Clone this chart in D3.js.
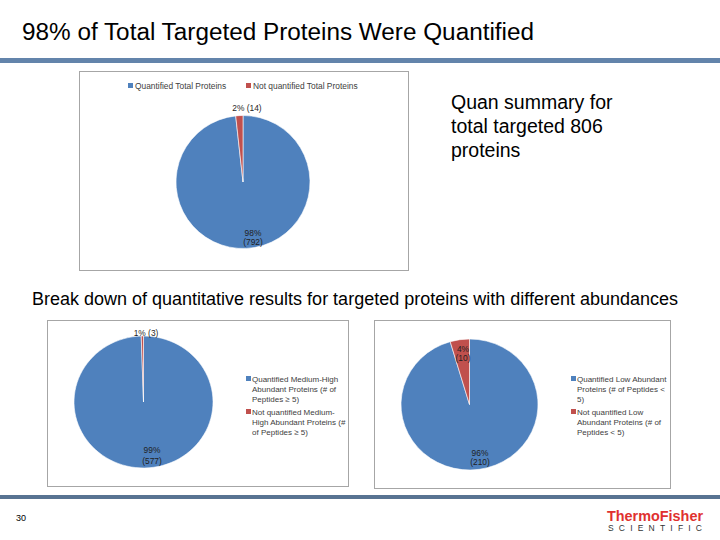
<!DOCTYPE html>
<html><head><meta charset="utf-8">
<script src="https://cdn.jsdelivr.net/npm/d3@7/dist/d3.min.js"></script>
<style>body{margin:0;background:#fff}svg{display:block}text{font-family:"Liberation Sans",Arial,sans-serif}</style>
</head><body>
<svg id="c" width="720" height="540"></svg>
<script>
const categories1 = ["Quantified Total Proteins", "Not quantified Total  Proteins"];
const values1 = [792, 14];
const pct1 = ["98%", "2%"];
const categories2 = ["Quantified Medium-High Abundant Proteins (# of Peptides \u2265 5)", "Not quantified Medium-High Abundant Proteins (# of Peptides \u2265 5)"];
const legendLines2 = [["Quantified Medium-High", "Abundant Proteins (# of", "Peptides \u2265 5)"], ["Not quantified Medium-", "High Abundant Proteins (#", "of Peptides \u2265 5)"]];
const values2 = [577, 3];
const pct2 = ["99%", "1%"];
const categories3 = ["Quantified Low Abundant Proteins (# of Peptides < 5)", "Not quantified Low Abundant Proteins (# of Peptides < 5)"];
const legendLines3 = [["Quantified Low Abundant", "Proteins (# of Peptides <", "5)"], ["Not quantified Low", "Abundant Proteins (# of", "Peptides < 5)"]];
const values3 = [210, 10];
const pct3 = ["96%", "4%"];
const colors = ["#4f81bd", "#c0504d"];

const svg = d3.select("#c");
// Title
svg.append("text").attr("x", 22).attr("y", 40).attr("font-size", 23.5).attr("fill", "#000")
  .attr("textLength", 512).attr("lengthAdjust", "spacingAndGlyphs")
  .text("98% of Total Targeted Proteins Were Quantified");
svg.append("rect").attr("x", 0).attr("y", 58).attr("width", 720).attr("height", 5).attr("fill", "#6384ab");
// bottom bar
svg.append("rect").attr("x", 0).attr("y", 495).attr("width", 720).attr("height", 4).attr("fill", "#587392");

// subtitle
const sub = ["Quan summary for", "total targeted 806", "proteins"];
svg.append("g").selectAll("text").data(sub).join("text")
  .attr("x", 451).attr("y", (d, i) => 109 + i * 24).attr("font-size", 19.5).text(d => d);
svg.append("text").attr("x", 32).attr("y", 305).attr("font-size", 17.5)
  .attr("textLength", 646).attr("lengthAdjust", "spacingAndGlyphs")
  .text("Break down of quantitative results for targeted proteins with different abundances");

// chart boxes
function box(x, y, w, h) {
  svg.append("rect").attr("x", x + 0.5).attr("y", y + 0.5).attr("width", w).attr("height", h)
    .attr("fill", "#fff").attr("stroke", "#a6a6a6").attr("stroke-width", 1);
}
box(79, 71, 329, 199);
box(47, 320, 301, 166);
box(374, 320, 296, 168);

const pieGen = d3.pie().sort(null).startAngle(0).endAngle(2 * Math.PI);

function drawPie(cx, cy, rx, ry, values) {
  const arcs = pieGen(values);
  const arc = d3.arc().innerRadius(0).outerRadius(rx);
  const g = svg.append("g").attr("transform", `translate(${cx},${cy}) scale(1,${ry / rx})`);
  g.selectAll("path").data(arcs).join("path")
    .attr("d", arc).attr("fill", (d, i) => colors[i])
    .attr("stroke", "#fff").attr("stroke-width", 0.6);
}
function labels(items) {
  svg.append("g").selectAll("text").data(items).join("text")
    .attr("x", d => d.x).attr("y", d => d.y).attr("text-anchor", "middle")
    .attr("font-size", 8.4).attr("fill", "#1f1f1f").text(d => d.t);
}

// Chart 1
drawPie(243, 182, 67, 66.5, values1);
labels([
  {x: 247, y: 111, t: `${pct1[1]} (${values1[1]})`},
  {x: 253, y: 236, t: pct1[0]},
  {x: 253, y: 245, t: `(${values1[0]})`}
]);
const leg1 = svg.append("g");
[[128, 0], [246, 1]].forEach(([x, i]) => {
  leg1.append("rect").attr("x", x).attr("y", 83).attr("width", 5).attr("height", 5).attr("fill", colors[i]);
  leg1.append("text").attr("x", x + 7).attr("y", 89).attr("font-size", 8.4).attr("fill", "#404040").text(categories1[i]);
});

// Chart 2
drawPie(143.5, 402, 69.5, 66, values2);
labels([
  {x: 146, y: 336, t: `${pct2[1]} (${values2[1]})`},
  {x: 152, y: 453, t: pct2[0]},
  {x: 152, y: 464, t: `(${values2[0]})`}
]);
function legendBlock(x, y0, linesArr) {
  const g = svg.append("g");
  linesArr.forEach((lines, i) => {
    const y = y0 + i * 33;
    g.append("rect").attr("x", x).attr("y", y - 5).attr("width", 5).attr("height", 5).attr("fill", colors[i]);
    lines.forEach((l, j) => {
      g.append("text").attr("x", x + 6).attr("y", y + 1 + j * 9.8).attr("font-size", 8)
        .attr("fill", "#404040").text(l);
    });
  });
}
legendBlock(246, 381, legendLines2);

// Chart 3
drawPie(469.5, 404.5, 68.5, 65.5, values3);
labels([
  {x: 463, y: 352, t: pct3[1]},
  {x: 463, y: 361, t: `(${values3[1]})`},
  {x: 480, y: 456, t: pct3[0]},
  {x: 480, y: 465, t: `(${values3[0]})`}
]);
legendBlock(571, 381, legendLines3);

// footer
svg.append("text").attr("x", 16).attr("y", 521).attr("font-size", 9).attr("fill", "#000").text("30");
svg.append("text").attr("x", 607).attr("y", 521).attr("font-size", 15).attr("font-weight", "bold")
  .attr("fill", "#e0312f").attr("textLength", 96).attr("lengthAdjust", "spacingAndGlyphs")
  .attr("font-family", "'Liberation Sans Narrow','Liberation Sans',sans-serif").text("ThermoFisher");
svg.append("text").attr("x", 608).attr("y", 531).attr("font-size", 8.5)
  .attr("fill", "#333").attr("textLength", 94).attr("lengthAdjust", "spacing").text("SCIENTIFIC");
</script>
</body></html>
